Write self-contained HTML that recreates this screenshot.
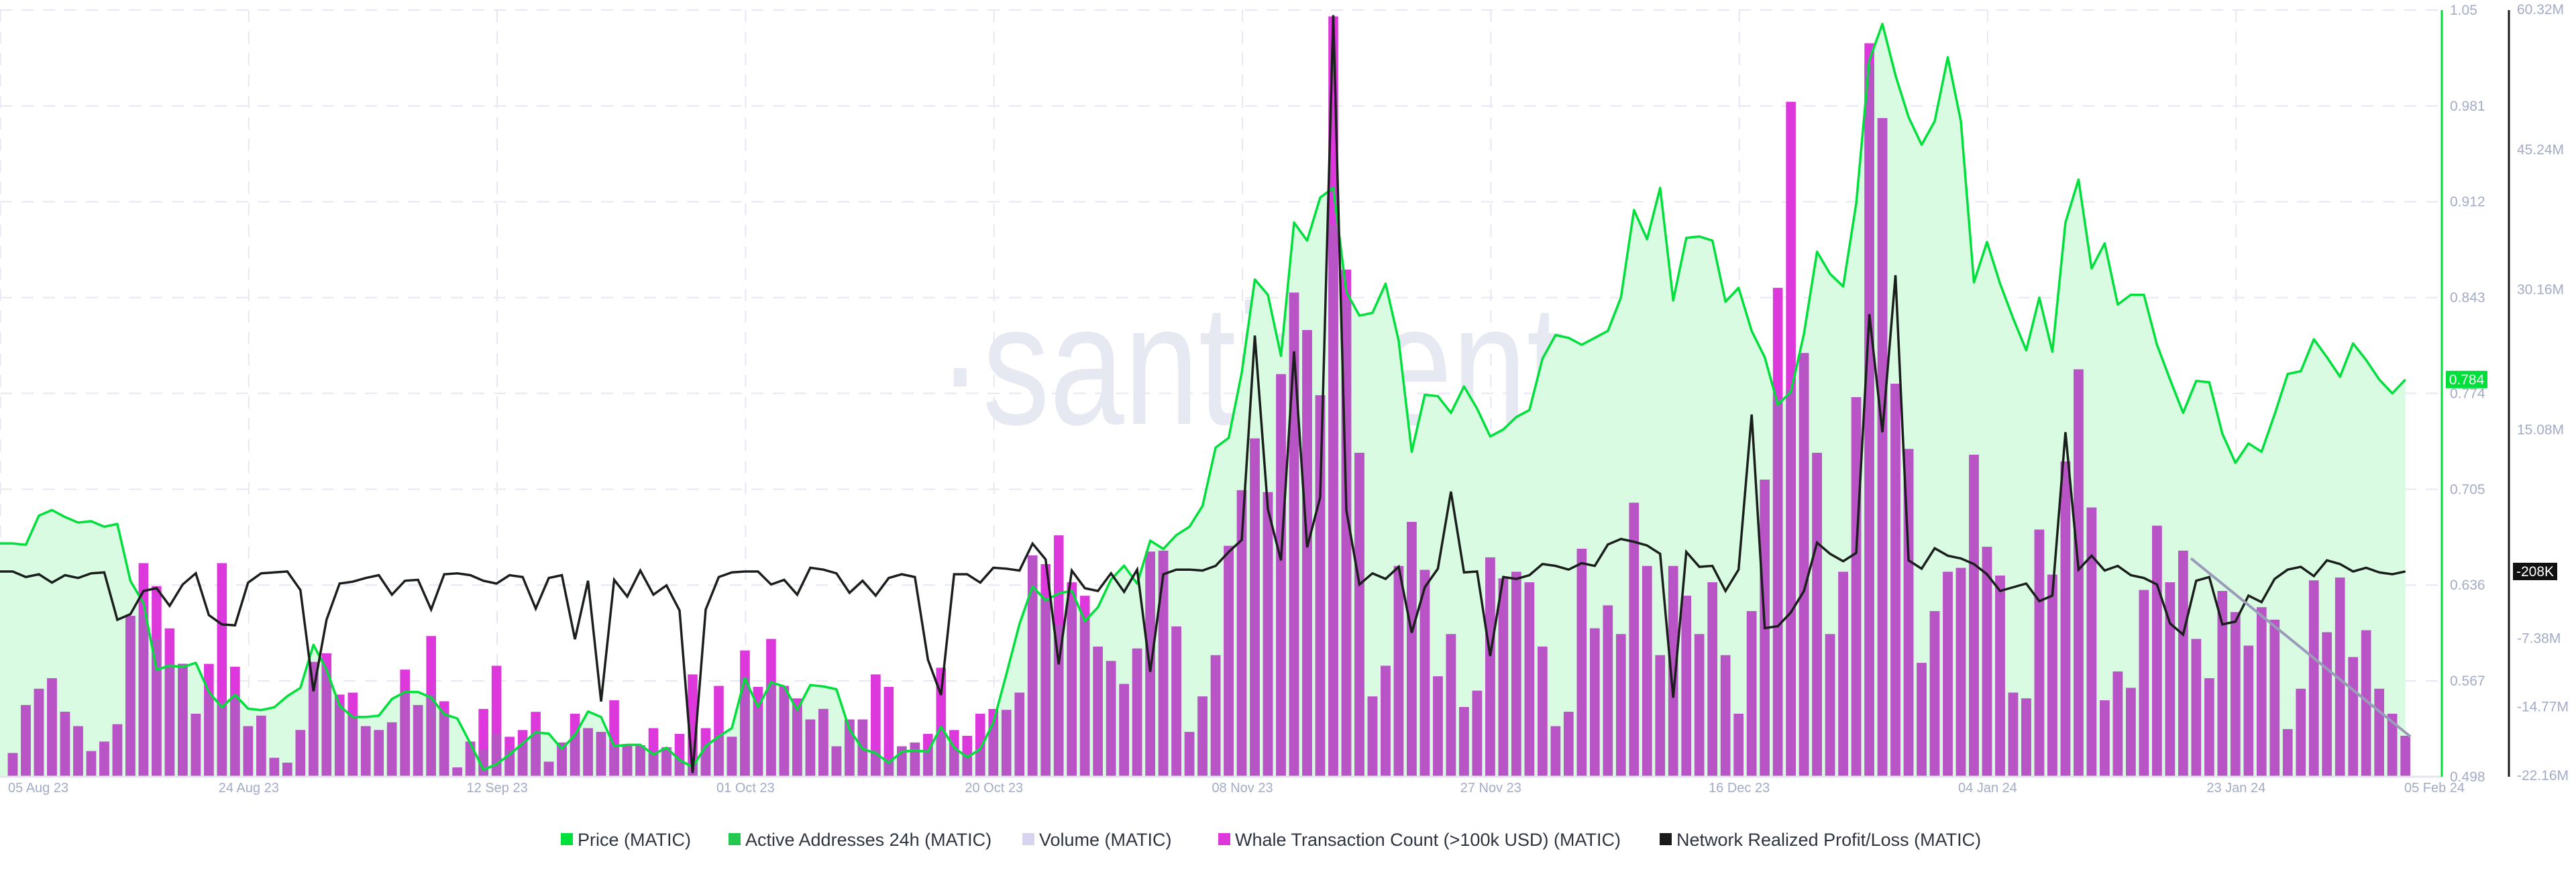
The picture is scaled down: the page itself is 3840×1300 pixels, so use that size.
<!DOCTYPE html>
<html><head><meta charset="utf-8"><style>
html,body{margin:0;padding:0;background:#fff;}
svg{display:block;font-family:"Liberation Sans",sans-serif;}
</style></head><body>
<svg id="chart" width="3840" height="1300" viewBox="0 0 3840 1300" xmlns="http://www.w3.org/2000/svg">
<g id="grid"></g>
<text x="1398" y="632" font-size="256" fill="#e6e8f2" textLength="1000" lengthAdjust="spacingAndGlyphs">·santiment·</text>
<g id="marks"></g>
<g id="axes"></g>
<g id="legend"></g>
</svg>
<script>
const dateLabels = ["05 Aug 23","24 Aug 23","12 Sep 23","01 Oct 23","20 Oct 23","08 Nov 23","27 Nov 23","16 Dec 23","04 Jan 24","23 Jan 24","05 Feb 24"];
const dateIdx = [-1,18,37,56,75,94,113,132,151,170,183];
const priceTicks = [1.05,0.981,0.912,0.843,0.774,0.705,0.636,0.567,0.498];
const pnlTicks = [60.32,45.24,30.16,15.08,-7.38,-14.77,-22.16];
const price = [.666,.665,.686,.690,.685,.681,.682,.678,.680,.639,
.623,.575,.578,.577,.580,.559,.548,.557,.547,.546,
.548,.556,.562,.593,.575,.549,.541,.541,.542,.554,
.559,.559,.555,.543,.540,.522,.503,.507,.514,.522,
.530,.529,.518,.528,.545,.541,.520,.521,.521,.514,
.519,.510,.505,.520,.527,.533,.569,.548,.566,.563,
.546,.564,.563,.561,.532,.518,.515,.508,.516,.517,
.516,.534,.519,.512,.518,.537,.572,.608,.635,.625,
.630,.632,.610,.620,.640,.650,.637,.668,.662,.672,
.678,.693,.735,.742,.789,.856,.845,.801,.897,.884,
.915,.922,.847,.830,.832,.853,.812,.732,.773,.772,
.760,.779,.763,.743,.748,.757,.762,.799,.816,.814,
.809,.814,.819,.843,.906,.885,.922,.841,.886,.887,
.884,.840,.850,.819,.800,.766,.775,.817,.876,.860,
.851,.911,1.014,1.040,1.003,.973,.953,.970,1.016,.970,
.854,.883,.853,.828,.805,.843,.804,.897,.928,.864,
.882,.838,.845,.845,.809,.784,.760,.783,.782,.745,
.724,.738,.732,.759,.788,.790,.813,.800,.786,.810,
.798,.784,.774,.784];
const pnl = [-0.2,-0.8,-0.5,-1.4,-0.6,-0.9,-0.4,-0.3,-5.4,-4.8,
-2.3,-2.0,-3.9,-1.6,-0.4,-4.9,-5.9,-6.0,-1.4,-0.4,
-0.3,-0.2,-2.2,-13.1,-5.4,-1.5,-1.3,-0.9,-0.6,-2.7,
-1.2,-1.1,-4.3,-0.5,-0.4,-0.6,-1.2,-1.5,-0.6,-0.8,
-4.2,-0.9,-0.6,-7.5,-1.2,-14.2,-1.1,-2.9,-0.1,-2.7,
-1.7,-4.4,-21.9,-4.3,-0.8,-0.3,-0.2,-0.2,-1.6,-1.1,
-2.7,0.2,0,-0.4,-2.5,-1.2,-2.8,-0.9,-0.5,-0.8,
-9.7,-13.5,-0.5,-0.5,-1.4,0.2,0.1,-0.1,2.8,1.1,
-10.2,-0.1,-2.0,-2.3,-0.4,-2.4,0,-11.0,-0.5,0,
0,-0.1,0.4,1.9,3.2,25.2,6.5,1.0,23.5,2.4,
7.8,59.7,6.4,-1.6,-0.4,-1.0,0.3,-6.8,-1.9,0.1,
8.4,-0.3,-0.2,-9.3,-0.8,-1.0,-0.6,0.6,0.4,0,
0.7,0.4,2.7,3.3,3.0,2.6,1.7,-13.8,1.9,0.3,
0.4,-2.3,0,16.7,-6.3,-6.1,-4.6,-2.3,2.9,1.7,
0.9,1.8,27.5,14.8,31.7,1.0,0.1,2.3,1.5,1.2,
0.6,-0.5,-2.3,-1.9,-1.5,-3.4,-2.8,14.8,0,1.5,
-0.1,0.4,-0.6,-0.9,-1.6,-5.8,-7.0,-1.2,-0.8,-5.9,
-5.6,-2.8,-3.5,-1.0,0,0.3,-0.7,1.0,0.6,-0.2,
0.2,-0.3,-0.5,-0.2];
const volume = [2.4,7.4,9.1,10.2,6.7,5.2,2.6,3.6,5.4,16.7,
16.9,14.3,11.7,11.7,6.5,8.5,7.5,8.5,5.2,6.3,
1.9,1.4,4.8,11.9,11.1,7.5,6.2,5.2,4.8,5.6,
8.5,7.4,8.5,6.5,0.9,3.6,2.8,4.4,2.8,3.3,
4.4,1.5,3.5,4.4,5.0,4.6,3.2,3.2,3.2,2.3,
3.0,1.8,1.3,3.1,4.1,4.1,10.3,7.0,9.8,9.1,
6.9,5.9,7.0,3.1,5.9,5.9,2.8,1.8,3.1,3.5,
2.8,4.4,2.8,2.3,2.8,5.4,6.9,8.7,23.0,18.4,
15.8,18.4,16.4,13.5,12.0,9.6,13.3,23.4,23.5,15.6,
4.6,8.3,12.6,24.0,29.8,35.2,29.6,41.9,50.4,46.5,
39.7,57.5,49.7,33.7,8.3,11.5,21.9,26.5,21.5,10.4,
14.8,7.2,8.9,22.8,20.6,21.3,20.2,13.5,5.2,6.7,
23.7,15.4,17.8,14.8,28.5,21.9,12.6,21.9,18.8,14.8,
20.2,12.6,6.5,17.2,30.9,39.3,40.3,44.1,33.7,14.8,
21.3,39.5,74.2,68.6,40.9,34.1,11.8,17.2,21.3,21.7,
33.5,23.9,20.9,8.7,8.1,25.7,21.0,32.8,42.4,28.0,
7.9,10.9,9.2,19.4,26.1,20.2,23.5,14.3,10.2,19.3,
17.1,13.6,17.6,16.3,4.9,9.1,20.4,15.0,20.7,12.4,
15.2,9.1,6.5,4.2];
const whale = [2.4,7.4,9.1,10.2,6.7,5.2,2.6,3.6,5.4,16.7,
22.2,19.8,15.4,11.7,6.5,11.7,22.2,11.4,5.2,6.3,
1.9,1.4,4.8,11.9,12.8,8.5,8.7,5.2,4.8,5.6,
11.1,7.4,14.6,7.8,0.9,3.6,7.0,11.5,4.1,4.8,
6.7,1.5,3.5,6.5,5.0,4.6,7.9,3.2,3.2,5.0,
3.0,4.4,10.6,5.0,9.4,4.1,13.1,9.3,14.3,9.4,
8.1,5.9,7.0,3.1,5.9,5.9,10.6,9.3,3.1,3.5,
4.4,11.3,4.8,4.2,6.5,7.0,6.9,8.7,23.0,22.1,
25.1,20.2,18.8,13.5,12.0,9.6,13.3,23.4,23.5,15.6,
4.6,8.3,12.6,24.0,29.8,35.2,29.6,41.9,50.4,46.5,
39.7,79.2,52.8,33.7,8.3,11.5,21.9,26.5,21.5,10.4,
14.8,7.2,8.9,22.8,20.6,21.3,20.2,13.5,5.2,6.7,
23.7,15.4,17.8,14.8,28.5,21.9,12.6,21.9,18.8,14.8,
20.2,12.6,6.5,17.2,30.9,50.9,70.3,44.1,33.7,14.8,
21.3,39.5,76.4,68.6,40.9,34.1,11.8,17.2,21.3,21.7,
33.5,23.9,20.9,8.7,8.1,25.7,21.0,32.8,42.4,28.0,
7.9,10.9,9.2,19.4,26.1,20.2,23.5,14.3,10.2,19.3,
17.1,13.6,17.6,16.3,4.9,9.1,20.4,15.0,20.7,12.4,
15.2,9.1,6.5,4.2];
const trendStart = [166.6, 22.7];
const trendEnd = [183.4, 4.1];

const NS = "http://www.w3.org/2000/svg";
const X = i => 19 + 19.49 * i;
const YP = p => 15 + (1.05 - p) * 2070.6;
const YN = v => 14 + (60.32 - v) * 13.846;
const YB = v => 1157 - v * 14.3;
const BASE = 1158, RIGHT = 3640;
function mk(tag, attrs, parent) {
  const e = document.createElementNS(NS, tag);
  for (const k in attrs) e.setAttribute(k, attrs[k]);
  parent.appendChild(e);
  return e;
}
const grid = document.getElementById('grid');
const marks = document.getElementById('marks');
const axes = document.getElementById('axes');
const legend = document.getElementById('legend');

priceTicks.forEach(t => {
  const l = mk('line', {x1: 0, x2: RIGHT, y1: YP(t), y2: YP(t), stroke: '#e6e7f2', 'stroke-width': 2, 'stroke-dasharray': '18 14'}, grid);
  
  
});
dateIdx.slice(0, 10).forEach(i => {
  const l = mk('line', {x1: X(i + 0.05), x2: X(i + 0.05), y1: 15, y2: BASE, stroke: '#e6e7f2', 'stroke-width': 2, 'stroke-dasharray': '18 14'}, grid);
  
  
});

// price area fill
let d = 'M0,' + BASE + ' L0,' + YP(price[0]);
price.forEach((p, i) => d += ' L' + X(i) + ',' + YP(p));
d += ' L' + X(price.length - 1) + ',' + BASE + ' Z';
const area = mk('path', {d: d, fill: '#d8fbe2'}, marks);



// bars
whale.forEach((v, i) => {
  const r = mk('rect', {x: X(i) - 7.3, y: YB(v), width: 14.6, height: BASE - YB(v), fill: '#dc38dc'}, marks);
  
  
});
volume.forEach((v, i) => {
  const r = mk('rect', {x: X(i) - 7.3, y: YB(v), width: 14.6, height: BASE - YB(v), fill: '#b954c6'}, marks);
  
  
});

// price line
let pd = 'M0,' + YP(price[0]);
price.forEach((p, i) => pd += ' L' + X(i) + ',' + YP(p));
const pl = mk('path', {d: pd, fill: 'none', stroke: '#00e03a', 'stroke-width': 3.5, 'stroke-linejoin': 'round'}, marks);



// pnl line
let nd = 'M0,' + YN(pnl[0]);
pnl.forEach((v, i) => nd += ' L' + X(i) + ',' + YN(v));
const nl = mk('path', {d: nd, fill: 'none', stroke: '#1b1f1c', 'stroke-width': 3.5, 'stroke-linejoin': 'miter'}, marks);



// trend annotation
const tl = mk('line', {x1: X(trendStart[0]), y1: YB(trendStart[1]), x2: X(trendEnd[0]), y2: YB(trendEnd[1]), stroke: '#9a9ab9', 'stroke-width': 4}, marks);



// axes
const bl = mk('line', {x1: 0, x2: RIGHT, y1: BASE, y2: BASE, stroke: '#e3e5ef', 'stroke-width': 3}, axes);


const ga = mk('line', {x1: 3640, x2: 3640, y1: 15, y2: BASE, stroke: '#00e03a', 'stroke-width': 3}, axes);


const ka = mk('line', {x1: 3740, x2: 3740, y1: 15, y2: BASE, stroke: '#1a1a1a', 'stroke-width': 3}, axes);



priceTicks.forEach(t => {
  const tx = mk('text', {x: 3652, y: YP(t) + 7, 'font-size': 21, fill: '#a3abc6'}, axes);
  tx.textContent = String(t);
  
  
});
pnlTicks.forEach(t => {
  const tx = mk('text', {x: 3752, y: YN(t) + 7, 'font-size': 21, fill: '#a3abc6'}, axes);
  tx.textContent = t.toFixed(2) + 'M';
  
  
});
dateLabels.forEach((s, k) => {
  let x = X(dateIdx[k] + 0.05), anchor = 'middle';
  if (k === 0) { x = 12; anchor = 'start'; }
  if (k === dateLabels.length - 1) { x = 3629; }
  const tx = mk('text', {x: x, y: 1181, 'font-size': 20, fill: '#a3abc6', 'text-anchor': anchor}, axes);
  tx.textContent = s;
  
  
});

// current value badges
const lastP = price[price.length - 1];
const pb = mk('rect', {x: 3646, y: YP(lastP) - 13, width: 62, height: 26, fill: '#00e03a'}, axes);


const pt = mk('text', {x: 3677, y: YP(lastP) + 7, 'font-size': 21, fill: '#fff', 'text-anchor': 'middle'}, axes);
pt.textContent = lastP.toFixed(3);


const lastN = pnl[pnl.length - 1];
const nb = mk('rect', {x: 3746, y: YN(lastN) - 13, width: 66, height: 26, fill: '#111'}, axes);


const nt = mk('text', {x: 3779, y: YN(lastN) + 7, 'font-size': 21, fill: '#fff', 'text-anchor': 'middle'}, axes);
nt.textContent = '-208K';



// legend
const legNames = ["Price (MATIC)","Active Addresses 24h (MATIC)","Volume (MATIC)","Whale Transaction Count (>100k USD) (MATIC)","Network Realized Profit/Loss (MATIC)"];
const legColors = ["#00e03a","#26c94f","#d6d4ee","#dc38dc","#1a1a1a"];
const legX = [836,1086,1524,1816,2474];
legNames.forEach((n, k) => {
  const g = mk('g', {}, legend);
  
  
  mk('rect', {x: legX[k], y: 1242, width: 18, height: 18, fill: legColors[k]}, g);
  const t = mk('text', {x: legX[k] + 25, y: 1261, 'font-size': 27, fill: '#2f3441'}, g);
  t.textContent = n;
});
</script>
</body></html>
